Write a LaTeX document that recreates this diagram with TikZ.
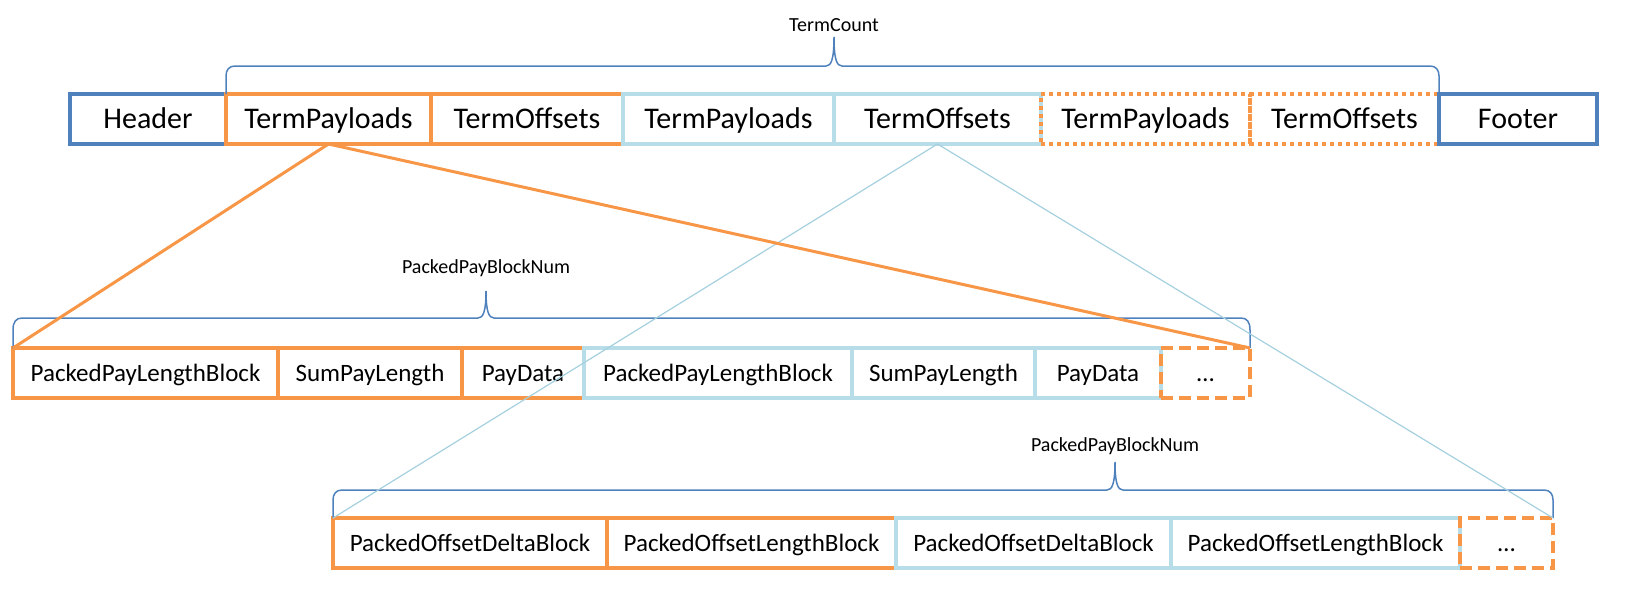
\documentclass[tikz,border=0pt]{standalone}
\usepackage{fontspec}
\setmainfont{Carlito}
\definecolor{hdrblue}{HTML}{4F81BD}
\definecolor{orng}{HTML}{F79646}
\definecolor{aqua}{HTML}{B7DDE8}
\definecolor{aqualine}{HTML}{A5D0DE}
% cell: style, x1, x2, y1, y2, name, text  (coordinates in px of the 1640x600 canvas)
\newcommand\mkcell[7]{\node[#1, minimum width={(#3-#2)*0.5pt}, minimum height={(#5-#4)*0.5pt}] (#6) at ({(#2+#3)/2},{(#4+#5)/2}) {#7};}
\begin{document}
\begin{tikzpicture}[x=0.5pt,y=-0.5pt,
  cell/.style={inner sep=0pt, outer sep=0pt, line width=2pt, text=black, text depth=0pt},
  bigcell/.style={cell, font=\fontsize{15}{17}\selectfont, text height=9.6pt},
  smcell/.style={cell, font=\fontsize{12.5}{14}\selectfont, text height=8pt},
  hdrc/.style={draw=hdrblue},
  orc/.style={draw=orng},
  aqc/.style={draw=aqua},
  dotc/.style={draw=orng, dash pattern=on 2pt off 2pt},
  dashc/.style={draw=orng, dash pattern=on 6pt off 3pt},
  brace/.style={draw=hdrblue, line width=0.75pt},
  lbl/.style={font=\fontsize{10}{12}\selectfont, inner sep=0pt},
  orline/.style={draw=orng, line width=1.5pt},
  aqline/.style={draw=aqualine, line width=0.6pt}
]
\useasboundingbox (0,0) rectangle (1640,600);

% ---- top row ----
\mkcell{bigcell,hdrc}{70}{226}{94}{144}{hdr}{Header}
\mkcell{bigcell,orc}{226}{431}{94}{144}{tpa}{TermPayloads}
\mkcell{bigcell,orc}{431}{623}{94}{144}{toa}{TermOffsets}
\mkcell{bigcell,aqc}{623}{834}{94}{144}{tpb}{TermPayloads}
\mkcell{bigcell,aqc}{834}{1041}{94}{144}{tob}{TermOffsets}
\mkcell{bigcell,dotc}{1041}{1250}{94}{144}{tpc}{TermPayloads}
\mkcell{bigcell,dotc}{1250}{1439}{94}{144}{toc}{TermOffsets}
\mkcell{bigcell,hdrc}{1439}{1597}{94}{144}{ftr}{Footer}

% ---- second row ----
\mkcell{smcell,orc}{13}{278}{348}{398}{pa}{PackedPayLengthBlock}
\mkcell{smcell,orc}{278}{462}{348}{398}{sa}{SumPayLength}
\mkcell{smcell,orc}{462}{584}{348}{398}{da}{PayData}
\mkcell{smcell,aqc}{584}{852}{348}{398}{pb}{PackedPayLengthBlock}
\mkcell{smcell,aqc}{852}{1035}{348}{398}{sb}{SumPayLength}
\mkcell{smcell,aqc}{1035}{1161}{348}{398}{db}{PayData}
\mkcell{smcell,dashc}{1161}{1250}{348}{398}{ea}{…}

% ---- third row ----
\mkcell{smcell,orc}{333}{607}{518}{568}{oda}{PackedOffsetDeltaBlock}
\mkcell{smcell,orc}{607}{896}{518}{568}{ola}{PackedOffsetLengthBlock}
\mkcell{smcell,aqc}{896}{1171}{518}{568}{odb}{PackedOffsetDeltaBlock}
\mkcell{smcell,aqc}{1171}{1460}{518}{568}{olb}{PackedOffsetLengthBlock}
\mkcell{smcell,dashc}{1460}{1553}{518}{568}{eb}{…}

% ---- braces ----
\draw[brace] (tpa.north west) -- (226,76) .. controls (226,70) and (229,66) .. (235,66)
  -- (826,66) .. controls (831,66) and (834,60) .. (834,37)
  .. controls (834,60) and (837,66) .. (842,66)
  -- (1430,66) .. controls (1436,66) and (1439,70) .. (1439,76) -- (ftr.north west);
\node[lbl] (tcount) at (834,25) {TermCount};

\draw[brace] (pa.north west) -- (13,330) .. controls (13,322) and (16,318) .. (22,318)
  -- (478,318) .. controls (483,318) and (486,312) .. (486,291)
  .. controls (486,312) and (489,318) .. (494,318)
  -- (1241,318) .. controls (1247,318) and (1250,322) .. (1250,330) -- (ea.north east);
\node[lbl] (pbn1) at (486,268) {PackedPayBlockNum};

\draw[brace] (oda.north west) -- (333,500) .. controls (333,494) and (336,490) .. (342,490)
  -- (1107,490) .. controls (1112,490) and (1115,484) .. (1115,462)
  .. controls (1115,484) and (1118,490) .. (1123,490)
  -- (1544,490) .. controls (1550,490) and (1553,494) .. (1553,500) -- (eb.north east);
\node[lbl] (pbn2) at (1115,446) {PackedPayBlockNum};

% ---- connectors ----
\draw[aqline] (tob.south) -- (oda.north west);
\draw[aqline] (tob.south) -- (eb.north east);
\draw[orline] (tpa.south) -- (pa.north west);
\draw[orline] (tpa.south) -- (ea.north east);
\end{tikzpicture}
\end{document}
